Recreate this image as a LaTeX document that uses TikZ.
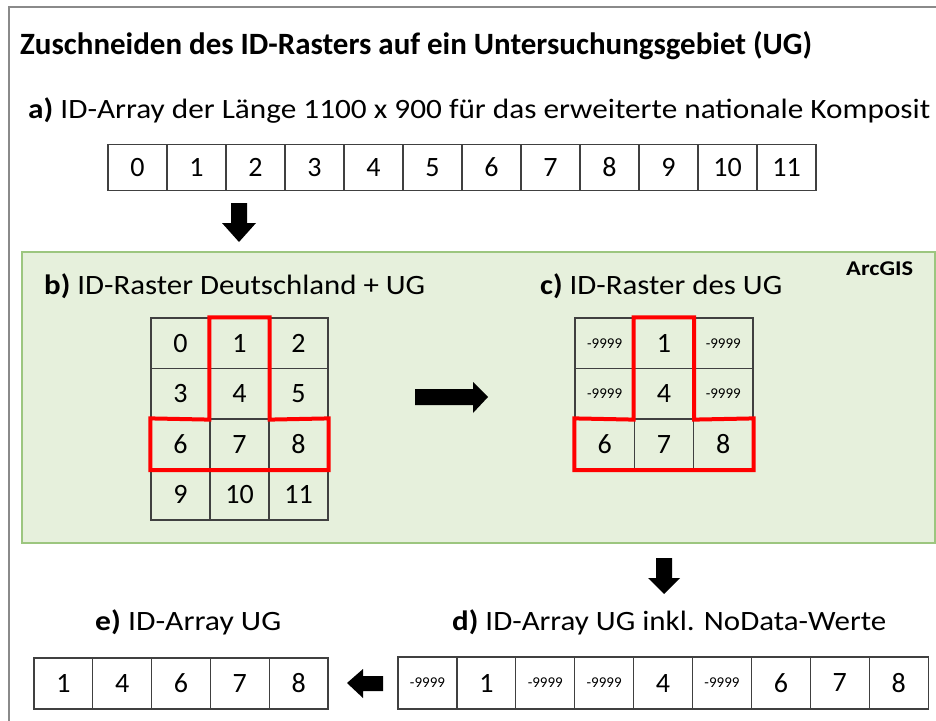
\documentclass[tikz,border=0pt]{standalone}
\usepackage{fontspec}
\setmainfont{Carlito}
\usepackage{graphicx}
\newcommand{\fitw}[2]{\resizebox{#1}{\height}{#2}}
\newcommand{\nd}{\fontsize{15}{16}\selectfont}
\definecolor{gridc}{HTML}{404040}
\definecolor{greenfill}{HTML}{E6F0DC}
\definecolor{greenline}{HTML}{9CC67F}
\definecolor{framec}{HTML}{8A8A8A}
\tikzset{
  cell/.style={draw=gridc, line width=1.2pt, minimum width=59pt, minimum height=50.5pt, inner sep=0pt, font=\fontsize{28}{30}\selectfont},
  redl/.style={draw=red, line width=4pt, line join=miter},
  lbl/.style={anchor=base west, inner sep=0pt, font=\fontsize{28}{30}\selectfont},
  blockarrow/.style={fill=black, draw=none}
}
\begin{document}
\begin{tikzpicture}[x=1pt,y=-1pt]
\useasboundingbox (0,0) rectangle (936,720);
% outer frame
\draw[framec, line width=2pt] (937,7) -- (9,7) -- (9,721);
% titles
\node[lbl, font=\fontsize{31}{34}\selectfont\bfseries] (title) at (20,54) {\fitw{792pt}{Zuschneiden des ID-Rasters auf ein Untersuchungsgebiet (UG)}};
\node[lbl] (la) at (28,118) {\fitw{902pt}{\textbf{a)} ID-Array der Länge 1100 x 900 für das erweiterte nationale Komposit}};
% array a
\foreach \i in {0,...,11}
  \node[cell, minimum height=46pt] (a\i) at ({108+59*(\i+0.5)},167.5) {\i};
% arrow down 1
\fill[blockarrow] (231,203) -- (247,203) -- (247,223) -- (256,223) -- (239,242) -- (222,223) -- (231,223) -- cycle;
% green box
\draw[fill=greenfill, draw=greenline, line width=1.5pt] (22,252) rectangle (935,543);
\node[lbl, font=\fontsize{21}{23}\selectfont\bfseries] (arcgis) at (846,275) {\fitw{67pt}{ArcGIS}};
\node[lbl] (lb) at (44,294) {\fitw{381pt}{\textbf{b)} ID-Raster Deutschland + UG}};
\node[lbl] (lc) at (540,294) {\fitw{242pt}{\textbf{c)} ID-Raster des UG}};
% grid b
\foreach \v in {0,...,11}{
  \pgfmathtruncatemacro{\r}{int(\v/3)}
  \pgfmathtruncatemacro{\c}{mod(\v,3)}
  \node[cell] (b\v) at ({151+59*(\c+0.5)},{318+50.5*(\r+0.5)}) {\v};
}
\draw[redl] (b1.north west) -- (b1.north east) -- (b4.south east) -- (b8.north east) -- (b8.south east) -- (b6.south west) -- (b6.north west) -- (b4.south west) -- cycle;
% arrow right
\fill[blockarrow] (415,389) -- (473,389) -- (473,382) -- (488,397) -- (473,413) -- (473,405) -- (415,405) -- cycle;
% grid c
\foreach \t [count=\k from 0] in {-9999,1,-9999,-9999,4,-9999,6,7,8}{
  \pgfmathtruncatemacro{\r}{int(\k/3)}
  \pgfmathtruncatemacro{\c}{mod(\k,3)}
  \node[cell, minimum width=59.3pt] (c\k) at ({575+59.3*(\c+0.5)},{318+50.5*(\r+0.5)}) {\ifnum\t<0 \nd\fi\t};
}
\draw[redl] (c1.north west) -- (c1.north east) -- (c4.south east) -- (c8.north east) -- (c8.south east) -- (c6.south west) -- (c6.north west) -- (c4.south west) -- cycle;
% arrow down 2
\fill[blockarrow] (656,558) -- (672,558) -- (672,578) -- (680,578) -- (664,594) -- (648,578) -- (656,578) -- cycle;
% bottom labels
\node[lbl] (le) at (95,630) {\fitw{186pt}{\textbf{e)} ID-Array UG}};
\node[lbl] (ld) at (452,630) {\fitw{434pt}{\textbf{d)} ID-Array UG inkl. NoData-Werte}};
% array e
\foreach \t [count=\k from 0] in {1,4,6,7,8}
  \node[cell, minimum width=58.8pt, minimum height=51pt] (e\k) at ({34+58.8*(\k+0.5)},683.5) {\t};
% array d
\foreach \t [count=\k from 0] in {-9999,1,-9999,-9999,4,-9999,6,7,8}
  \node[cell, minimum width=58.9pt, minimum height=52pt] (d\k) at ({398+58.9*(\k+0.5)},683) {\ifnum\t<0 \nd\fi\t};
% arrow left
\fill[blockarrow] (383,676) -- (363,676) -- (363,669) -- (347,683) -- (363,698) -- (363,691) -- (383,691) -- cycle;
\end{tikzpicture}
\end{document}
